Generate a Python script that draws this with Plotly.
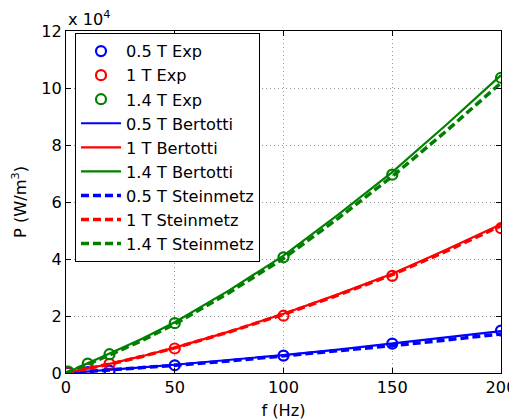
import plotly.graph_objects as go

# Frequencies (Hz)
f_exp = [1, 10, 20, 50, 100, 150, 200]
f_model = [0, 10, 20, 35, 50, 75, 100, 125, 150, 175, 200]

# Power loss, units of 1e4 W/m^3
p_exp_05 = [0.01, 0.03, 0.08, 0.27, 0.61, 1.03, 1.49]
p_exp_10 = [0.03, 0.15, 0.32, 0.86, 2.01, 3.41, 5.08]
p_exp_14 = [0.05, 0.33, 0.66, 1.75, 4.06, 6.96, 10.36]

p_bert_05 = [0, 0.05, 0.11, 0.20, 0.29, 0.45, 0.63, 0.82, 1.03, 1.24, 1.47]
p_bert_10 = [0, 0.15, 0.32, 0.59, 0.89, 1.45, 2.08, 2.76, 3.48, 4.33, 5.22]
p_bert_14 = [0, 0.33, 0.68, 1.20, 1.78, 2.90, 4.12, 5.55, 7.05, 8.72, 10.45]

p_stein_05 = [0, 0.05, 0.10, 0.18, 0.27, 0.42, 0.59, 0.77, 0.96, 1.16, 1.37]
p_stein_10 = [0, 0.14, 0.31, 0.58, 0.88, 1.44, 2.06, 2.73, 3.45, 4.28, 5.17]
p_stein_14 = [0, 0.30, 0.63, 1.14, 1.72, 2.82, 4.02, 5.42, 6.90, 8.50, 10.18]

x_ticks = [0, 50, 100, 150, 200]
y_ticks = [0, 2, 4, 6, 8, 10, 12]

BLUE = "rgb(0,0,255)"
RED = "rgb(255,0,0)"
GREEN = "rgb(0,128,0)"
FONT = "DejaVu Sans, Liberation Sans, Arial, sans-serif"
FS = 16.2

fig = go.Figure()

for name, y, c in [("0.5 T Exp", p_exp_05, BLUE), ("1 T Exp", p_exp_10, RED), ("1.4 T Exp", p_exp_14, GREEN)]:
    fig.add_trace(go.Scatter(x=f_exp, y=y, mode="markers", name=name,
                             marker=dict(symbol="circle-open", size=10, color=c, line=dict(width=2.2, color=c))))

for name, y, c in [("0.5 T Bertotti", p_bert_05, BLUE), ("1 T Bertotti", p_bert_10, RED), ("1.4 T Bertotti", p_bert_14, GREEN)]:
    fig.add_trace(go.Scatter(x=f_model, y=y, mode="lines", name=name,
                             line=dict(color=c, width=2.2)))

for name, y, c in [("0.5 T Steinmetz", p_stein_05, BLUE), ("1 T Steinmetz", p_stein_10, RED), ("1.4 T Steinmetz", p_stein_14, GREEN)]:
    fig.add_trace(go.Scatter(x=f_model, y=y, mode="lines", name=name,
                             line=dict(color=c, width=3.5, dash="8px,4px")))

axis_common = dict(
    showline=True, linecolor="black", linewidth=1, mirror="ticks",
    ticks="inside", ticklen=5, tickcolor="black", tickwidth=1,
    showgrid=True, gridcolor="rgb(150,150,150)", griddash="1px,3px", gridwidth=1,
    zeroline=False, automargin=False,
    tickfont=dict(family=FONT, size=FS, color="black"),
)

fig.update_xaxes(range=[0, 200], tickvals=x_ticks, **axis_common,
                 title=dict(text="f (Hz)", font=dict(family=FONT, size=FS, color="black")))
fig.update_yaxes(range=[0, 12], tickvals=y_ticks, **axis_common,
                 title=dict(text="P (W/m<sup>3</sup>)", font=dict(family=FONT, size=FS, color="black")))

fig.add_annotation(text="x 10<sup>4</sup>", xref="paper", yref="paper", x=0, y=1,
                   xanchor="left", yanchor="bottom", showarrow=False, yshift=0,
                   font=dict(family=FONT, size=FS, color="black"))

# page body has an 8px default margin, so the figure is 8px smaller and shifted
fig.update_layout(
    template="none",
    width=509, height=412, autosize=False,
    margin=dict(l=58, r=16, t=23, b=47, autoexpand=False),
    paper_bgcolor="white", plot_bgcolor="white",
    font=dict(family=FONT, size=FS, color="black"),
    legend=dict(x=0.0207, y=0.994, xanchor="left", yanchor="top",
                bgcolor="white", bordercolor="black", borderwidth=1,
                font=dict(family=FONT, size=FS, color="black"),
                itemwidth=40, tracegroupgap=0),
    showlegend=True,
)

fig.write_html("out.html")
